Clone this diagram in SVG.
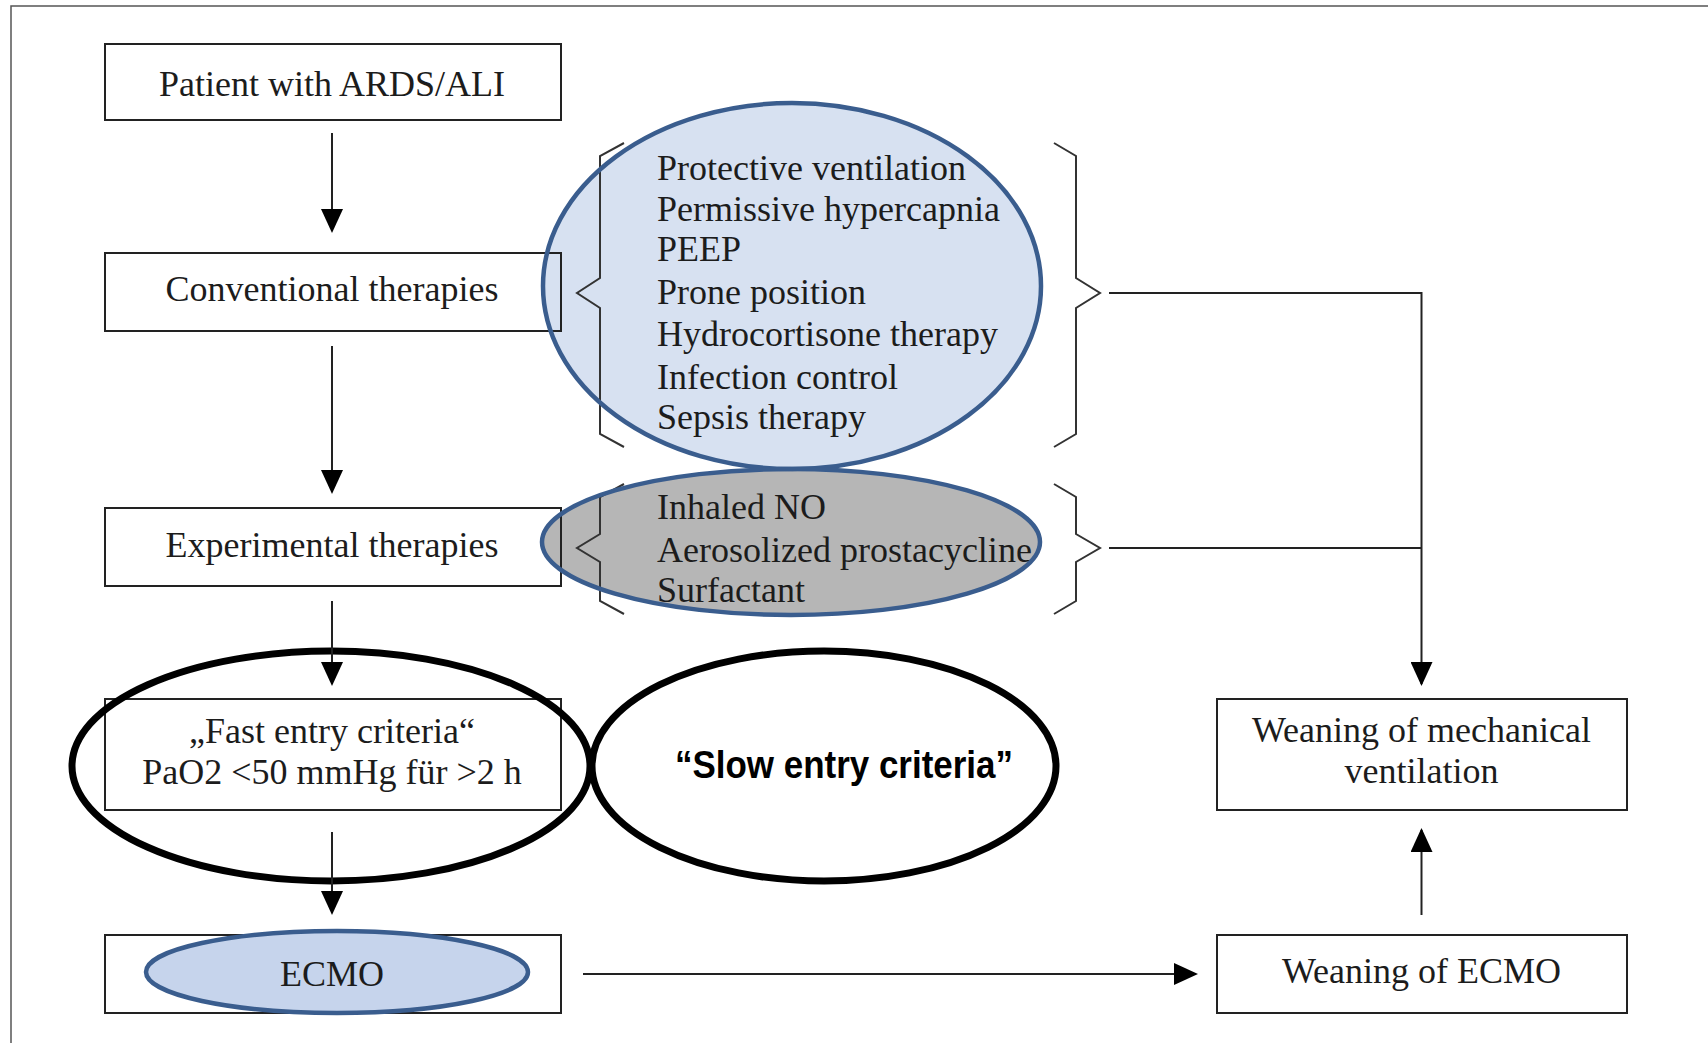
<svg xmlns="http://www.w3.org/2000/svg" width="1708" height="1043" viewBox="0 0 1708 1043">
<defs>
<style>
.box{fill:none;stroke:#222;stroke-width:2}
.t{font-family:"Liberation Serif","Times New Roman",serif;font-size:36px;fill:#1c1c1c}
.c{text-anchor:middle}
.ln{fill:none;stroke:#222;stroke-width:2}
.br{fill:none;stroke:#333;stroke-width:2}
.big{fill:none;stroke:#000;stroke-width:7}
</style>
<marker id="ah" viewBox="0 0 24 22" refX="22" refY="11" markerWidth="24" markerHeight="22" markerUnits="userSpaceOnUse" orient="auto">
<path d="M0,0 L24,11 L0,22 Z" fill="#000"/>
</marker>
</defs>
<rect width="1708" height="1043" fill="#fff"/>
<path d="M11,1043 V6 H1708" fill="none" stroke="#555" stroke-width="1.5"/>

<g id="conv-ellipse-fill">
<ellipse cx="792" cy="286" rx="249" ry="183" fill="#cdd9ee" fill-opacity="0.8"/>
</g>
<g id="exp-ellipse-fill">
<ellipse cx="791" cy="542" rx="249" ry="73" fill="#a9a9a9" fill-opacity="0.85"/>
</g>

<g id="patient">
<rect class="box" x="105" y="44" width="456" height="76"/>
<text class="t c" x="332" y="96">Patient with ARDS/ALI</text>
</g>
<g id="conventional">
<rect class="box" x="105" y="253" width="456" height="78"/>
<text class="t c" x="332" y="301">Conventional therapies</text>
</g>
<g id="experimental">
<rect class="box" x="105" y="508" width="456" height="78"/>
<text class="t c" x="332" y="557">Experimental therapies</text>
</g>
<g id="fast">
<rect class="box" x="105" y="699" width="456" height="111"/>
<text class="t c" x="332" y="743">„Fast entry criteria“</text>
<text class="t c" x="332" y="784">PaO2 &lt;50 mmHg für &gt;2 h</text>
</g>
<g id="ecmo">
<rect class="box" x="105" y="935" width="456" height="78"/>
<ellipse cx="337" cy="972" rx="191" ry="41" fill="#c6d4ec" stroke="#3a5d8e" stroke-width="4.5"/>
<text class="t c" x="332" y="986" fill="#333">ECMO</text>
</g>
<g id="wean-mech">
<rect class="box" x="1217" y="699" width="410" height="111"/>
<text class="t c" x="1421.5" y="742">Weaning of mechanical</text>
<text class="t c" x="1421.5" y="783">ventilation</text>
</g>
<g id="wean-ecmo">
<rect class="box" x="1217" y="935" width="410" height="78"/>
<text class="t c" x="1421.5" y="983">Weaning of ECMO</text>
</g>

<g id="braces">
<path class="br" d="M624,143 L600,156 V278 L577,293 L600,308 V434 L624,447"/>
<path class="br" d="M1054,143 L1076,156 V278 L1100,293 L1076,308 V434 L1054,447"/>
<path class="br" d="M624,484 L600,497 V534 L577,548 L600,562 V601 L624,614"/>
<path class="br" d="M1054,484 L1076,497 V534 L1100,548 L1076,562 V601 L1054,614"/>
</g>

<g id="conv-list">
<text class="t" x="657" y="180">Protective ventilation</text>
<text class="t" x="657" y="221">Permissive hypercapnia</text>
<text class="t" x="657" y="261">PEEP</text>
<text class="t" x="657" y="304">Prone position</text>
<text class="t" x="657" y="346">Hydrocortisone therapy</text>
<text class="t" x="657" y="389">Infection control</text>
<text class="t" x="657" y="429">Sepsis therapy</text>
</g>
<g id="exp-list">
<text class="t" x="657" y="519">Inhaled NO</text>
<text class="t" x="657" y="562">Aerosolized prostacycline</text>
<text class="t" x="657" y="602">Surfactant</text>
</g>

<g id="ellipse-outlines">
<ellipse cx="792" cy="286" rx="249" ry="183" fill="none" stroke="#3a5d8e" stroke-width="4.5"/>
<ellipse cx="791" cy="542" rx="249" ry="73" fill="none" stroke="#3a5d8e" stroke-width="4.5"/>
</g>

<g id="fast-ellipse">
<ellipse class="big" cx="331" cy="766" rx="259" ry="115"/>
</g>
<g id="slow">
<ellipse class="big" cx="824" cy="766" rx="232" ry="115"/>
<text x="844" y="778" text-anchor="middle" font-family="'Liberation Sans',Arial,sans-serif" font-weight="bold" font-size="39" textLength="338" lengthAdjust="spacingAndGlyphs" fill="#000">“Slow entry criteria”</text>
</g>

<g id="connectors">
<line class="ln" x1="332" y1="133" x2="332" y2="231" marker-end="url(#ah)"/>
<line class="ln" x1="332" y1="346" x2="332" y2="492" marker-end="url(#ah)"/>
<line class="ln" x1="332" y1="601" x2="332" y2="684" marker-end="url(#ah)"/>
<line class="ln" x1="332" y1="832" x2="332" y2="913" marker-end="url(#ah)"/>
<line class="ln" x1="583" y1="974" x2="1196" y2="974" marker-end="url(#ah)"/>
<line class="ln" x1="1421.5" y1="915" x2="1421.5" y2="830" marker-end="url(#ah)"/>
<path class="ln" d="M1109,293 H1421.5 V684" marker-end="url(#ah)"/>
<line class="ln" x1="1109" y1="548" x2="1421.5" y2="548"/>
</g>
</svg>
